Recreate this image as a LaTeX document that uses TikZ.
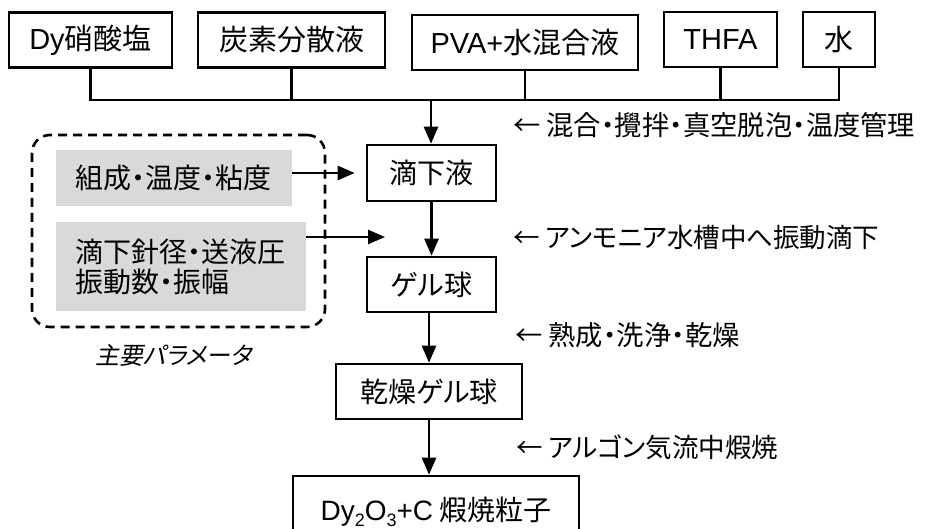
\documentclass[tikz,border=0pt]{standalone}
\usepackage{fontspec}
\setmainfont{Noto Sans CJK JP}[RawFeature={+palt}]
\newfontfamily\lat{Liberation Sans}
\newfontfamily\jpit{Noto Sans CJK JP}[RawFeature={+palt}, FakeSlant=0.2]
\usetikzlibrary{arrows.meta,calc}
\newcommand\fsbox{\fontsize{28}{30}\selectfont}
\newcommand\fstop{\fontsize{29}{30}\selectfont}
\newcommand\fsnote{\fontsize{27.3}{30}\selectfont}
\definecolor{gfill}{RGB}{217,217,217}
\tikzset{
  pbox/.style={draw, line width=2.6pt, inner sep=0pt, font=\fsbox},
  tbox/.style={pbox, font=\fstop, minimum height=55pt},
  gbox/.style={fill=gfill, inner xsep=19pt, inner ysep=0pt, align=left, font=\fsbox},
  arr/.style={line width=2.6pt, -{Triangle[length=17pt,width=14pt]}},
  ln/.style={line width=2.6pt},
  note/.style={anchor=west, inner sep=0pt, font=\fsnote},
}
\begin{document}
\begin{tikzpicture}[x=1pt,y=-1pt]
\clip (0,0) rectangle (925,529);
% top row
\node[tbox, minimum width=163pt] (dy) at (90.5,40) {{\lat Dy}硝酸塩};
\node[tbox, minimum width=187pt] (cs) at (291.5,40) {炭素分散液};
\node[tbox, minimum width=226pt] (pva) at (525,42.5) {{\lat PVA+}水混合液};
\node[tbox, minimum width=113pt] (thfa) at (720.5,39.5) {{\lat THFA}};
\node[tbox, minimum width=72pt] (mizu) at (839,39.5) {水};
\coordinate (bus) at (431,100);
\draw[ln] (dy.south) -- (dy.south |- bus) -- (mizu.south |- bus) -- (mizu.south);
\draw[ln] (cs.south) -- (cs.south |- bus);
\draw[ln] (pva.south) -- (pva.south |- bus);
\draw[ln] (thfa.south) -- (thfa.south |- bus);
% main chain
\node[pbox, minimum width=129pt, minimum height=56pt] (teki) at (431.5,173) {滴下液};
\node[pbox, minimum width=129pt, minimum height=55pt] (gel) at (431.5,284.5) {ゲル球};
\node[pbox, minimum width=186pt, minimum height=55pt] (kan) at (429,391.5) {乾燥ゲル球};
\node[pbox, minimum width=286pt, minimum height=72pt] (fin) at (436,512)
  {{\lat Dy\raisebox{-0.22em}{\fontsize{18}{18}\selectfont 2}O\raisebox{-0.22em}{\fontsize{18}{18}\selectfont 3}+C} 煆焼粒子};
\draw[arr] (bus) -- (bus |- teki.north);
\draw[arr] (teki.south) -- (gel.north);
\draw[arr] (kan.south |- gel.south) -- (kan.north);
\draw[arr] (kan.south) -- (kan.south |- fin.north);
% parameters
\node[draw, line width=2.6pt, dash pattern=on 9pt off 6pt, rounded corners=18pt,
  minimum width=293pt, minimum height=192pt, inner sep=0pt] (frame) at (178.5,231) {};
\node[gbox, minimum height=56pt, text width=198pt] (g1) at (174,178) {組成・温度・粘度};
\node[gbox, minimum height=89pt, text width=212pt] (g2) at (181,266.5) {滴下針径・送液圧\\振動数・振幅};
\node[font=\jpit\fontsize{24}{28}\selectfont, inner sep=0pt] (lbl) at (173.5,355) {主要パラメータ};
\draw[arr, shorten >=11pt] (g1.east |- teki.west) -- (teki.west);
\coordinate (p2) at (385,237);
\draw[arr] (g2.east |- p2) -- (p2);
% notes
\node[note] (n1) at (513,125) {← 混合・攪拌・真空脱泡・温度管理};
\node[note, font=\fontsize{26.5}{30}\selectfont] (n2) at (513,237) {← アンモニア水槽中へ振動滴下};
\node[note] (n3) at (515,335) {← 熟成・洗浄・乾燥};
\node[note, font=\fontsize{26.5}{30}\selectfont] (n4) at (516,447) {← アルゴン気流中煆焼};
\end{tikzpicture}
\end{document}
